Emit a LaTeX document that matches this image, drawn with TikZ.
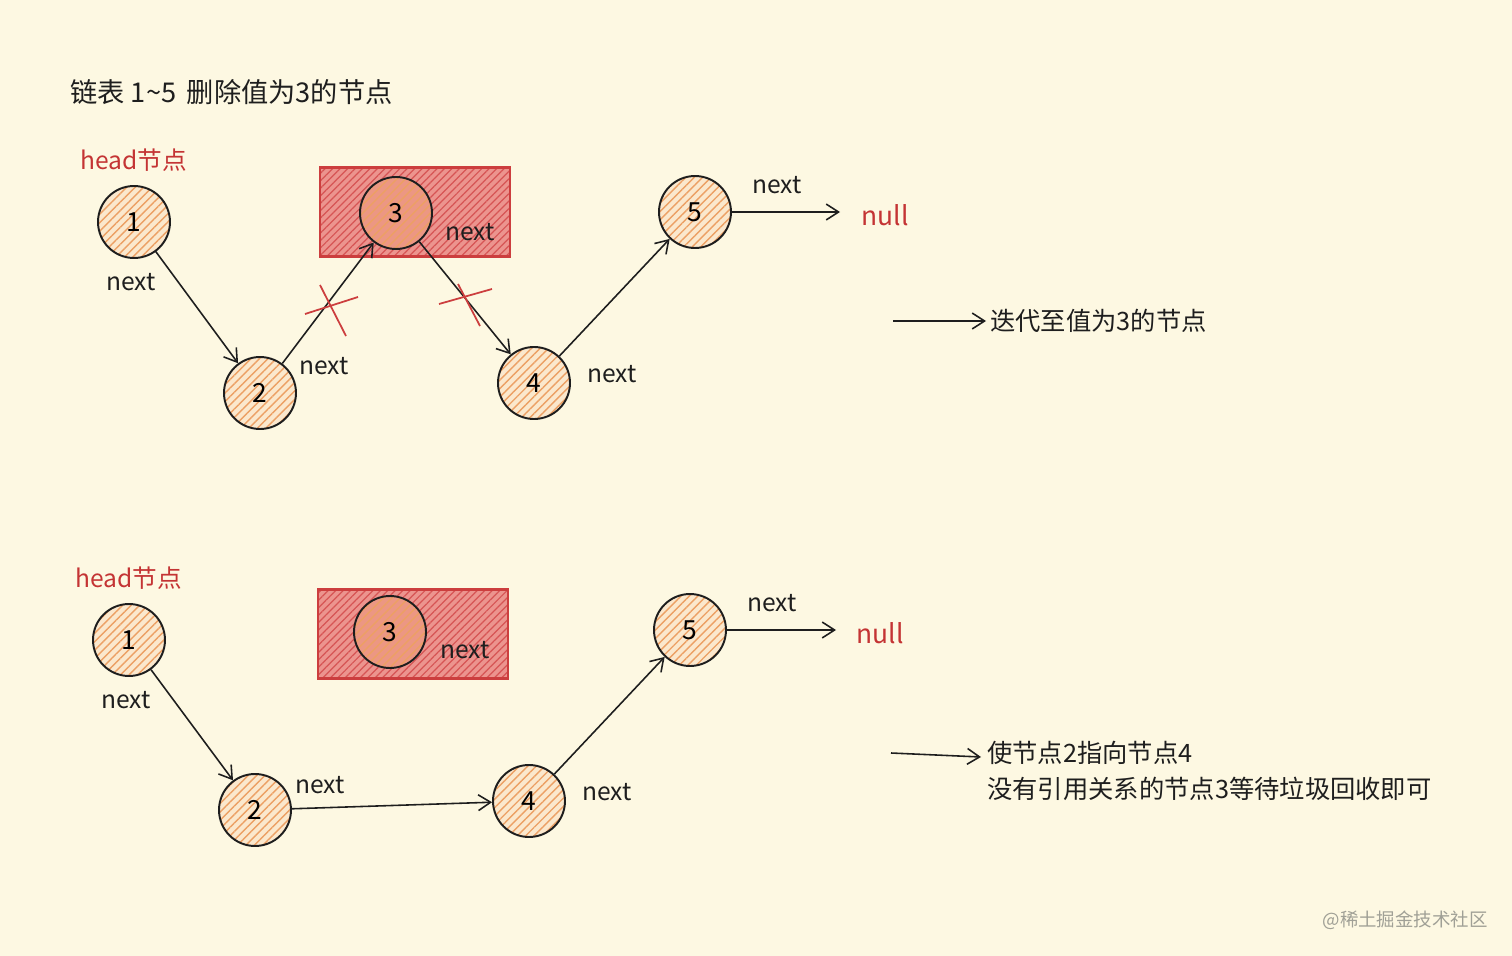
\documentclass[tikz,border=0pt]{standalone}
\usepackage{fontspec}
\setmainfont{Noto Sans CJK SC}
\usetikzlibrary{arrows.meta,patterns.meta}
\definecolor{bg}{RGB}{253,248,226}
\definecolor{hatch}{RGB}{236,160,100}
\definecolor{circfill}{RGB}{251,232,205}
\definecolor{boxfill}{RGB}{236,148,142}
\definecolor{boxhatch}{RGB}{214,84,84}
\definecolor{boxdraw}{RGB}{204,62,62}
\definecolor{redtxt}{RGB}{196,52,52}
\definecolor{ink}{RGB}{30,30,30}
\definecolor{wm}{RGB}{160,160,150}
\tikzset{
  lnode/.style={circle,draw=ink,line width=1.1pt,minimum size=1.44cm,inner sep=0pt,
    preaction={fill=circfill},
    pattern={Lines[angle=45,distance=3.4pt,line width=0.8pt]},pattern color=hatch,
    font=\fontsize{15}{15}\selectfont},
  delbox/.style={rectangle,draw=boxdraw,line width=1.6pt,minimum width=3.8cm,minimum height=1.78cm,
    preaction={fill=boxfill},
    pattern={Lines[angle=45,distance=3pt,line width=0.7pt]},pattern color=boxhatch},
  delnode/.style={lnode,preaction={fill=boxfill!75!hatch}},
  nxt/.style={font=\fontsize{14}{14}\selectfont,text=ink,inner sep=1pt},
  nulltxt/.style={font=\fontsize{15}{15}\selectfont,text=redtxt},
  headtxt/.style={font=\fontsize{14}{14}\selectfont,text=redtxt,anchor=west,inner sep=0pt},
  body/.style={font=\fontsize{14.4}{14.4}\selectfont,text=ink,anchor=west,inner sep=0pt},
  link/.style={draw=ink,line width=0.9pt,-{Straight Barb[length=7pt,width=9pt,line width=0.9pt]}},
  cross/.style={draw=boxdraw,line width=1pt},
}
\begin{document}
\begin{tikzpicture}[x=0.02cm,y=-0.02cm]
\fill[bg] (0,0) rectangle (1512,956);
\useasboundingbox (0,0) rectangle (1512,956);

% title
\node[body,font=\fontsize{15.5}{15.5}\selectfont] (title) at (70,92) {链表 1\textasciitilde5 \,删除值为3的节点};

% ---------- top diagram ----------
\node[headtxt] (h1) at (80,160) {head节点};
\node[delbox] (box1) at (415,212) {};
\node[lnode] (a1) at (134,222) {1};
\node[lnode] (a2) at (260,393) {2};
\node[delnode] (a3) at (396,213) {3};
\node[lnode] (a4) at (534,383) {4};
\node[lnode] (a5) at (695,212) {5};
\node[nulltxt] (null1) at (885,215) {null};
\coordinate (e1) at (840,212);

\node[nxt] (n1) at (131,282) {next};
\node[nxt] (n2) at (324,366) {next};
\node[nxt] (n3) at (470,232) {next};
\node[nxt] (n4) at (612,374) {next};
\node[nxt] (n5) at (777,185) {next};

\draw[link] (a1) -- (a2);
\draw[link] (a2) -- (a3);
\draw[link] (a3) -- (a4);
\draw[link] (a4) -- (a5);
\draw[link] (a5) -- (e1);

\coordinate (x1a) at (320,285); \coordinate (x1b) at (346,336);
\coordinate (x1c) at (305,314); \coordinate (x1d) at (358,297);
\draw[cross] (x1a) -- (x1b);
\draw[cross] (x1c) -- (x1d);
\coordinate (x2a) at (458,284); \coordinate (x2b) at (480,326);
\coordinate (x2c) at (439,304); \coordinate (x2d) at (492,289);
\draw[cross] (x2a) -- (x2b);
\draw[cross] (x2c) -- (x2d);

\coordinate (r1s) at (893,321);
\coordinate (r1e) at (986,321);
\draw[link] (r1s) -- (r1e);
\node[body] (t1) at (990,321) {迭代至值为3的节点};

% ---------- bottom diagram ----------
\node[headtxt] (h2) at (75,578) {head节点};
\node[delbox] (box2) at (413,634) {};
\node[lnode] (b1) at (129,640) {1};
\node[lnode] (b2) at (255,810) {2};
\node[delnode] (b3) at (390,632) {3};
\node[lnode] (b4) at (529,801) {4};
\node[lnode] (b5) at (690,630) {5};
\node[nulltxt] (null2) at (880,633) {null};
\coordinate (e2) at (836,630);

\node[nxt] (m1) at (126,700) {next};
\node[nxt] (m2) at (320,785) {next};
\node[nxt] (m3) at (465,650) {next};
\node[nxt] (m4) at (607,792) {next};
\node[nxt] (m5) at (772,603) {next};

\draw[link] (b1) -- (b2);
\draw[link] (b2) -- (b4);
\draw[link] (b4) -- (b5);
\draw[link] (b5) -- (e2);

\coordinate (r2s) at (891,753);
\coordinate (r2e) at (981,757);
\draw[link] (r2s) -- (r2e);
\node[body] (t2) at (987,753) {使节点2指向节点4};
\node[body] (t3) at (987,789) {没有引用关系的节点3等待垃圾回收即可};

\node[font=\fontsize{10.5}{10.5}\selectfont,text=wm,anchor=east,inner sep=0pt] (wmk) at (1488,920) {@稀土掘金技术社区};
\end{tikzpicture}
\end{document}
